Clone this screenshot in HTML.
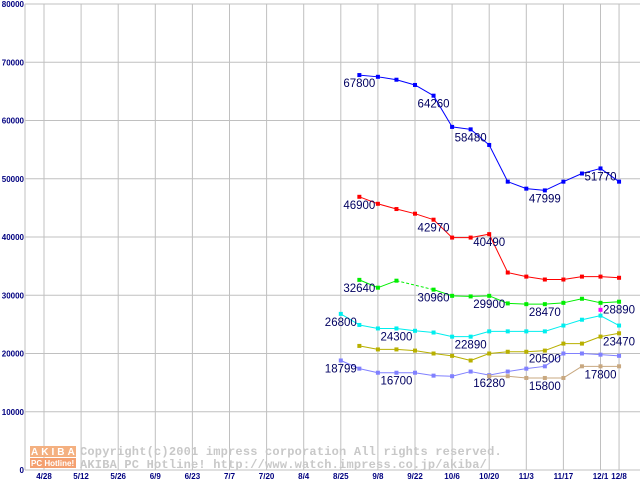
<!DOCTYPE html>
<html><head><meta charset="utf-8"><style>
html,body{margin:0;padding:0;background:#fff;}
svg{display:block;}
</style></head><body>
<svg id="chart" width="640" height="480" xmlns="http://www.w3.org/2000/svg" font-family="'Liberation Sans', sans-serif">
<g id="grid"></g>
<g id="axes"></g>
<g id="watermark">
  <rect x="30" y="446" width="12" height="11" fill="#f4b080"/><rect x="42" y="446" width="12" height="11" fill="#f4b080"/><rect x="54" y="446" width="10" height="11" fill="#f4b080"/><rect x="64" y="446" width="12" height="11" fill="#f4b080"/>
  <text x="31" y="455" font-size="10" fill="#fff" font-weight="bold" letter-spacing="3">AKIBA</text>
  <rect x="30" y="458" width="46" height="10" fill="#f4a070"/>
  <text x="31" y="466" font-size="8" fill="#fff" font-weight="bold">PC Hotline!</text>
  <text x="80" y="455" font-size="12" letter-spacing="0.2" fill="#c8c8c8" font-family="'Liberation Mono', monospace" font-weight="bold">Copyright(c)2001 impress corporation All rights reserved.</text>
  <text x="80" y="468" font-size="12" letter-spacing="0.2" fill="#c8c8c8" font-family="'Liberation Mono', monospace" font-weight="bold">AKIBA PC Hotline!  http://www.watch.impress.co.jp/akiba/</text>
</g>
<g id="series"></g>
<g id="labels"></g>
</svg>
<script>
const xTickLabels = ["4/28","5/12","5/26","6/9","6/23","7/7","7/20","8/4","8/25","9/8","9/22","10/6","10/20","11/3","11/17","12/1","12/8"];
const yTicks = [0,10000,20000,30000,40000,50000,60000,70000,80000];
// values indexed by half-week slot k = 0..31 (slot 16 = 8/25)
const blueVals = [[17,67800],[18,67500],[19,67000],[20,66100],[21,64260],[22,58900],[23,58480],[24,55800],[25,49500],[26,48300],[27,47999],[28,49500],[29,50900],[30,51770],[31,49500]];
const redVals = [[17,46900],[18,45700],[19,44800],[20,44000],[21,42970],[22,39900],[23,39900],[24,40490],[25,33900],[26,33200],[27,32700],[28,32700],[29,33200],[30,33200],[31,33000]];
const greenVals = [[17,32640],[18,31300],[19,32500],[21,30960],[22,29900],[23,29800],[24,29900],[25,28600],[26,28470],[27,28470],[28,28700],[29,29400],[30,28700],[31,28890]];
const cyanVals = [[16,26800],[17,24900],[18,24300],[19,24300],[20,23900],[21,23600],[22,22890],[23,22890],[24,23800],[25,23800],[26,23800],[27,23800],[28,24800],[29,25800],[30,26500],[31,24800]];
const oliveVals = [[17,21300],[18,20700],[19,20700],[20,20500],[21,20000],[22,19600],[23,18800],[24,20000],[25,20300],[26,20300],[27,20500],[28,21700],[29,21700],[30,22900],[31,23470]];
const lavenderVals = [[16,18799],[17,17400],[18,16700],[19,16700],[20,16700],[21,16200],[22,16100],[23,16900],[24,16280],[25,16900],[26,17400],[27,17800],[28,20000],[29,20000],[30,19800],[31,19600]];
const tanVals = [[24,16100],[25,16100],[26,15800],[27,15800],[28,15800],[29,17800],[30,17800],[31,17800]];
const magentaVals = [[30,27500]];
// labels: [series index, slot k, text]
const labelSlots = [[0,17,"67800"],[0,21,"64260"],[0,23,"58480"],[0,27,"47999"],[0,30,"51770"],
 [1,17,"46900"],[1,21,"42970"],[1,24,"40490"],
 [2,17,"32640"],[2,21,"30960"],[2,24,"29900"],[2,27,"28470"],[2,31,"28890"],
 [3,16,"26800"],[3,19,"24300"],[3,23,"22890"],
 [4,27,"20500"],[4,31,"23470"],
 [5,16,"18799"],[5,19,"16700"],[5,24,"16280"],
 [6,27,"15800"],[6,30,"17800"]];

const NS="http://www.w3.org/2000/svg";
const xs = k => 44 + 18.55*k;
const ys = v => 470 - v*0.005825;
function mk(tag, attrs, parent){const e=document.createElementNS(NS,tag);for(const a in attrs)e.setAttribute(a,attrs[a]);parent.appendChild(e);return e;}
const grid=document.getElementById('grid'), axes=document.getElementById('axes');
yTicks.forEach((v,i)=>{
  const l=mk('line',{x1:25,x2:640,y1:ys(v),y2:ys(v),stroke:'#c0c0c0','stroke-width':1},grid);
  
  
  const t=mk('text',{x:24,y:ys(v)+3,'text-anchor':'end','font-size':8,'font-weight':'bold',fill:'#000080'},axes);
  t.textContent=v;
  
  
});
xTickLabels.forEach((s,i)=>{
  const k = i<16 ? i*2 : 31;
  const x=xs(k);
  const l=mk('line',{x1:x,x2:x,y1:4,y2:470,stroke:'#c0c0c0','stroke-width':1},grid);
  
  
  const t=mk('text',{x:x,y:479,'text-anchor':'middle','font-size':8,'font-weight':'bold',fill:'#000080'},axes);
  t.textContent=s;
  
  
});
const ax=mk('line',{x1:25,x2:25,y1:4,y2:470,stroke:'#c0c0c0'},axes);



const seriesList=[[blueVals,'#0000ff','blue-series'],[redVals,'#ff0000','red-series'],[greenVals,'#00ee00','green-series'],[cyanVals,'#00eeee','cyan-series'],[oliveVals,'#b8b000','olive-series'],[lavenderVals,'#8080ff','lavender-series'],[tanVals,'#c8a880','tan-series'],[magentaVals,'#ff00ff','magenta-series']];
const sg=document.getElementById('series');
seriesList.forEach(([vals,col,name])=>{
  const g=mk('g',{},sg);
  
  
  for(let i=1;i<vals.length;i++){
    const a=vals[i-1],b=vals[i];
    const attrs={x1:xs(a[0]),y1:ys(a[1]),x2:xs(b[0]),y2:ys(b[1]),stroke:col,'stroke-width':1};
    if(b[0]-a[0]>1) attrs['stroke-dasharray']='3,2';
    const l=mk('line',attrs,g);
    
    
  }
  vals.forEach(p=>{
    const r=mk('rect',{x:xs(p[0])-2,y:ys(p[1])-2,width:4,height:4,fill:col},g);
    
    
  });
});
const lg=document.getElementById('labels');
labelSlots.forEach(([si,k,txt])=>{
  const vals=seriesList[si][0];
  const p=vals.find(q=>q[0]===k);
  const t=mk('text',{x:xs(k)-16,y:ys(p[1])+12,'font-size':11.5,fill:'#000060'},lg);
  t.textContent=txt;
  
  
});
</script>
</body></html>
